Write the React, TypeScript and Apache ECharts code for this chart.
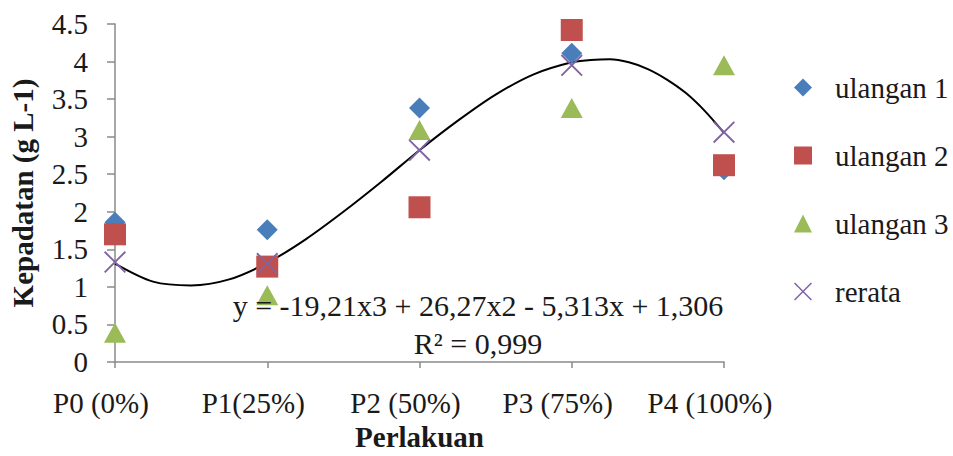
import React, { useEffect, useRef } from "react";
import * as echarts from "echarts";

const categories = ["P0 (0%)", "P1(25%)", "P2 (50%)", "P3 (75%)", "P4 (100%)"];
const ulangan1 = [1.86, 1.76, 3.38, 4.11, 2.56];
const ulangan2 = [1.7, 1.27, 2.06, 4.42, 2.62];
const ulangan3 = [0.39, 0.89, 3.09, 3.38, 3.95];
const rerata = [1.33, 1.31, 2.82, 3.95, 3.06];
// trend line points
const trendX = [0, 0.25, 0.5, 0.75, 1, 1.25, 1.5, 1.75, 2, 2.25, 2.5, 2.75, 3, 3.125, 3.25, 3.375, 3.5, 3.625, 3.75, 3.875, 4];
const trendY = [1.31, 1.07, 1.02, 1.1, 1.32, 1.63, 2.0, 2.4, 2.82, 3.21, 3.56, 3.83, 3.99, 4.02, 4.03, 3.99, 3.9, 3.76, 3.58, 3.34, 3.05];
const yTicks = [0, 0.5, 1, 1.5, 2, 2.5, 3, 3.5, 4, 4.5];
const equationText = "y = -19,21x3 + 26,27x2 - 5,313x + 1,306";
const r2Text = "R² = 0,999";

const FONT = "Liberation Serif";
const XPATH = "path://M0,0.6L0.6,0L10,9.4L9.4,10Z M9.4,0L10,0.6L0.6,10L0,9.4Z";

export default function App() {
  const ref = useRef<HTMLDivElement>(null);
  useEffect(() => {
    if (!ref.current) return;
    const chart = echarts.init(ref.current, undefined, { renderer: "svg" });
    const pts = (arr: number[]) => arr.map((v, i) => [i, v]);
    chart.setOption({
      animation: false,
      backgroundColor: "#fff",
      grid: { left: 115, right: 229, top: 24, bottom: 94, outerBoundsMode: "none", containLabel: false },
      legend: {
        orient: "vertical",
        left: 789,
        top: 68,
        itemWidth: 18,
        itemHeight: 18,
        itemGap: 39,
        textStyle: { fontFamily: FONT, fontSize: 29, color: "#1a1a1a", padding: [0, 0, 0, 18] },
        data: ["ulangan 1", "ulangan 2", "ulangan 3", "rerata"],
      },
      xAxis: {
        type: "value",
        min: 0,
        max: 4,
        interval: 1,
        name: "Perlakuan",
        nameLocation: "middle",
        nameGap: 60,
        nameTextStyle: { fontFamily: FONT, fontSize: 29, fontWeight: "bold", color: "#1a1a1a" },
        axisLine: { show: true, lineStyle: { color: "#8a8a8a", width: 1.5 } },
        axisTick: { show: true, length: 6, lineStyle: { color: "#8a8a8a", width: 1.5 } },
        splitLine: { show: false },
        axisLabel: {
          fontFamily: FONT,
          fontSize: 29,
          color: "#1a1a1a",
          margin: 26,
          padding: [0, 28, 0, 0],
          formatter: (v: number) => categories[Math.round(v)] ?? "",
        },
      },
      yAxis: {
        type: "value",
        min: 0,
        max: 4.5,
        interval: 0.5,
        name: "Kepadatan (g L-1)",
        nameLocation: "middle",
        nameGap: 78,
        nameTextStyle: { fontFamily: FONT, fontSize: 29, fontWeight: "bold", color: "#1a1a1a" },
        axisLine: { show: true, lineStyle: { color: "#8a8a8a", width: 1.5 } },
        axisTick: { show: true, length: 8, lineStyle: { color: "#8a8a8a", width: 1.5 } },
        splitLine: { show: false },
        axisLabel: {
          fontFamily: FONT,
          fontSize: 29,
          color: "#1a1a1a",
          margin: 27,
          formatter: (v: number) => (yTicks.includes(v) ? String(v) : ""),
        },
      },
      graphic: [
        {
          type: "text",
          x: 478,
          y: 305,
          z: 100,
          style: {
            text: equationText,
            fontFamily: FONT,
            fontSize: 30,
            fill: "#1a1a1a",
            align: "center",
            verticalAlign: "middle",
          },
        },
        {
          type: "text",
          x: 478,
          y: 343,
          z: 100,
          style: {
            text: r2Text,
            fontFamily: FONT,
            fontSize: 30,
            fill: "#1a1a1a",
            align: "center",
            verticalAlign: "middle",
          },
        },
      ],
      series: [
        {
          name: "trend",
          type: "line",
          data: trendX.map((x, i) => [x, trendY[i]]),
          smooth: 0.3,
          symbol: "none",
          lineStyle: { color: "#000", width: 2 },
          z: 1,
          silent: true,
        },
        {
          name: "ulangan 1",
          type: "scatter",
          symbol: "diamond",
          symbolSize: 21,
          itemStyle: { color: "#4a7ebb", opacity: 1 },
          data: pts(ulangan1),
          z: 2,
        },
        {
          name: "ulangan 2",
          type: "scatter",
          symbol: "rect",
          symbolSize: 22,
          itemStyle: { color: "#c0504d", opacity: 1 },
          data: pts(ulangan2),
          z: 3,
        },
        {
          name: "ulangan 3",
          type: "scatter",
          symbol: "triangle",
          symbolSize: [22, 20],
          itemStyle: { color: "#9bbb59", opacity: 1 },
          data: pts(ulangan3),
          z: 4,
        },
        {
          name: "rerata",
          type: "scatter",
          symbol: XPATH,
          symbolSize: 22,
          itemStyle: { color: "#8064a2", opacity: 1 },
          data: pts(rerata),
          z: 5,
        },
      ],
    });
    return () => chart.dispose();
  }, []);
  return (
    <div style={{ position: "fixed", left: 0, top: 0, width: 953, height: 456 }}>
      <div ref={ref} style={{ width: 953, height: 456 }} />
    </div>
  );
}
